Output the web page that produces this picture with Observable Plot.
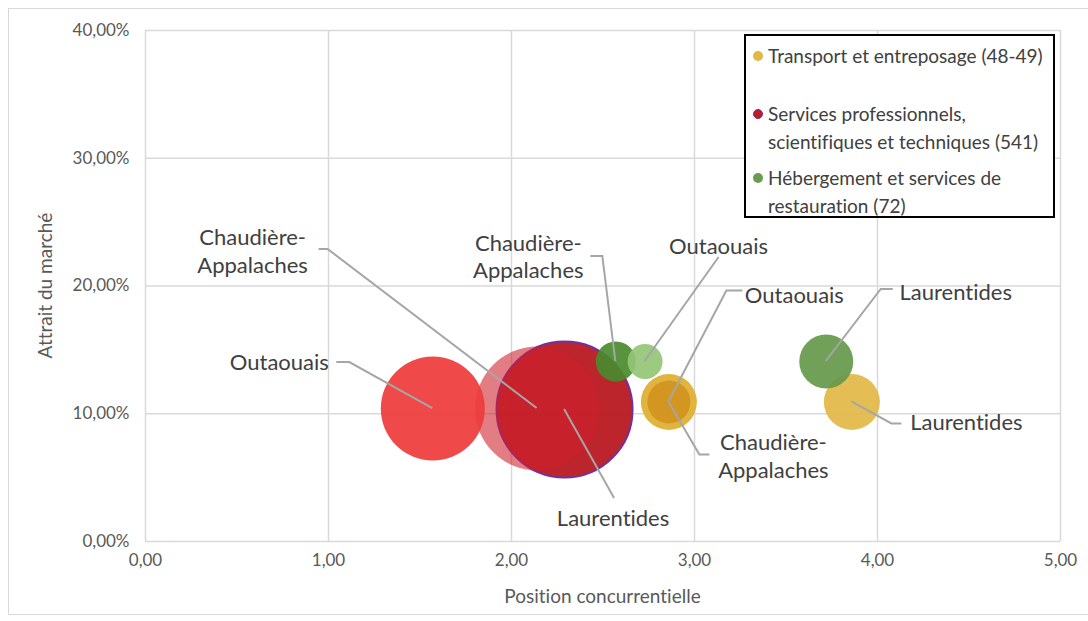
<!DOCTYPE html>
<html>
<head>
<meta charset="utf-8">
<script src="https://cdn.jsdelivr.net/npm/d3@7"></script>
<script src="https://cdn.jsdelivr.net/npm/@observablehq/plot@0.6"></script>
<style>
  body { margin: 0; background: #fff; font-family: Lato, "Open Sans", sans-serif; font-variant-ligatures: none; font-feature-settings: "liga" 0, "clig" 0; }
  svg, svg text { font-variant-ligatures: none; font-feature-settings: "liga" 0, "clig" 0; }
  #wrap { position: relative; width: 1088px; height: 621px; overflow: hidden; }
  #frame { position: absolute; left: 8px; top: 8px; width: 1100px; height: 607px; border: 1.5px solid #d9d9d9; box-sizing: border-box; }
  #chart { position: absolute; left: 0; top: 0; }
  #legend { position: absolute; left: 744px; top: 34px; width: 311px; height: 184px; border: 2px solid #000; background: #fff; box-sizing: border-box; color: #404040; font-size: 19px; }
  .item { position: absolute; left: 22px; line-height: 27.5px; white-space: nowrap; }
  .dot { position: absolute; left: 7px; width: 10px; height: 10px; border-radius: 50%; box-sizing: border-box; }
</style>
</head>
<body>
<div id="wrap">
  <div id="frame"></div>
  <div id="chart"></div>
  <div id="legend"></div>
</div>
<script>
// ---- Data ----
const regions = ["Chaudière-Appalaches", "Laurentides", "Outaouais"];
const sectors = [
  "Services professionnels, scientifiques et techniques (541)",
  "Hébergement et services de restauration (72)",
  "Transport et entreposage (48-49)"
];
const legendOrder = [
  "Transport et entreposage (48-49)",
  "Services professionnels, scientifiques et techniques (541)",
  "Hébergement et services de restauration (72)"
];
// Position concurrentielle (x), Attrait du marché in % (y), bubble size
const servicesX = [2.14, 2.29, 1.57];
const servicesY = [10.41, 10.33, 10.41];
const servicesSize = [3844, 4624, 2704];
const hebergementX = [2.57, 3.72, 2.73];
const hebergementY = [14.09, 14.09, 14.09];
const hebergementSize = [400, 729, 306];
const transportX = [2.86, 3.86, 2.86];
const transportY = [10.92, 10.92, 10.92];
const transportSize = [784, 784, 462];
const xTicks = [0, 1, 2, 3, 4, 5];
const yTicks = [0, 10, 20, 30, 40];

const seriesValues = [
  [servicesX, servicesY, servicesSize],
  [hebergementX, hebergementY, hebergementSize],
  [transportX, transportY, transportSize]
];
// drawing order within each series
const drawOrder = [
  ["Outaouais", "Chaudière-Appalaches", "Laurentides"],
  ["Outaouais", "Chaudière-Appalaches", "Laurentides"],
  ["Chaudière-Appalaches", "Outaouais", "Laurentides"]
];
const rows = [];
sectors.forEach((s, si) => {
  drawOrder[si].forEach(r => {
    const ri = regions.indexOf(r);
    rows.push({sector: s, region: r, x: seriesValues[si][0][ri], y: seriesValues[si][1][ri], size: seriesValues[si][2][ri]});
  });
});

// ---- Styles ----
const S = sectors;
const key = d => d.sector + "|" + d.region;
const fills = {
  [S[0] + "|Outaouais"]: ["#ee3b3b", 0.93],
  [S[0] + "|Chaudière-Appalaches"]: ["#cf1f2b", 0.58],
  [S[0] + "|Laurentides"]: ["#b8171f", 0.94],
  [S[1] + "|Outaouais"]: ["#93c675", 0.92],
  [S[1] + "|Chaudière-Appalaches"]: ["#4a8a2e", 0.92],
  [S[1] + "|Laurentides"]: ["#65984a", 0.92],
  [S[2] + "|Chaudière-Appalaches"]: ["#e1b43e", 1],
  [S[2] + "|Outaouais"]: ["#d2951f", 0.95],
  [S[2] + "|Laurentides"]: ["#e2b945", 0.92]
};
const legendColors = {
  [S[2]]: {fill: "#e2b945", stroke: "none"},
  [S[0]]: {fill: "#c01c24", stroke: "#7030a0"},
  [S[1]]: {fill: "#6a9b50", stroke: "none"}
};
// leader-line annotations: pixel offsets from bubble centre
const annot = {
  [S[0] + "|Chaudière-Appalaches"]: {path: [[-209, -159], [-218, -159]], text: [-284, -156.5]},
  [S[0] + "|Outaouais"]: {path: [[-83, -46], [-96, -46]], text: [-153, -46]},
  [S[0] + "|Laurentides"]: {path: [[50, 89]], text: [49, 109]},
  [S[1] + "|Chaudière-Appalaches"]: {path: [[-13, -105], [-25, -105]], text: [-87, -104]},
  [S[1] + "|Outaouais"]: {path: [[74, -104]], text: [74, -115]},
  [S[1] + "|Laurentides"]: {path: [[55, -72], [67, -72]], text: [130, -69]},
  [S[2] + "|Outaouais"]: {path: [[58, -111], [74, -111]], text: [126, -106]},
  [S[2] + "|Chaudière-Appalaches"]: {path: [[31, 53], [41, 53]], text: [105, 55]},
  [S[2] + "|Laurentides"]: {path: [[40, 22], [50, 22]], text: [115, 21]}
};

const fmtX = d => d3.format(".2f")(d).replace(".", ",");
const fmtY = d => d3.format(".2f")(d).replace(".", ",") + "%";

const plot = Plot.plot({
  width: 1088,
  height: 621,
  marginLeft: 145,
  marginRight: 28,
  marginTop: 30,
  marginBottom: 80,
  style: {fontFamily: "Lato, sans-serif", fontSize: "17px", color: "#595959", background: "transparent", overflow: "visible"},
  x: {domain: [0, 5], ticks: xTicks, tickFormat: fmtX, tickSize: 0, tickPadding: 12, label: null},
  y: {domain: [0, 40], ticks: yTicks, tickFormat: fmtY, tickSize: 0, tickPadding: 16, label: null},
  r: {domain: [0, 4624], range: [0, 68]},
  marks: [
    Plot.gridX(xTicks, {stroke: "#d9d9d9", strokeOpacity: 1, strokeWidth: 1.5}),
    Plot.gridY(yTicks, {stroke: "#d9d9d9", strokeOpacity: 1, strokeWidth: 1.5}),
    Plot.dot(rows, {
      x: "x", y: "y", r: "size",
      fill: d => fills[key(d)][0],
      fillOpacity: d => fills[key(d)][1],
      stroke: d => d.region === "Laurentides" && d.sector === S[0] ? "#7030a0" : "none",
      strokeWidth: 2
    })
  ]
});
document.getElementById("chart").appendChild(plot);

const sx = plot.scale("x"), sy = plot.scale("y");
const svg = d3.select(plot);

// axis titles
svg.append("text")
  .attr("x", (sx.range[0] + sx.range[1]) / 2).attr("y", sy.apply(0) + 55)
  .attr("text-anchor", "middle").attr("dy", "0.35em")
  .attr("fill", "#595959").style("font-size", "19px")
  .text("Position concurrentielle");
svg.append("text")
  .attr("transform", `translate(45,${(sy.range[0] + sy.range[1]) / 2}) rotate(-90)`)
  .attr("text-anchor", "middle").attr("dy", "0.35em")
  .attr("fill", "#595959").style("font-size", "19px")
  .text("Attrait du marché");

// leader lines and labels
const ann = svg.append("g");
rows.forEach(d => {
  const a = annot[key(d)];
  const cx = sx.apply(d.x), cy = sy.apply(d.y);
  const pts = [[cx, cy]].concat(a.path.map(p => [cx + p[0], cy + p[1]]));
  ann.append("path").attr("d", d3.line()(pts))
    .attr("fill", "none").attr("stroke", "#a6a6a6").attr("stroke-width", 2);
  const lines = d.region === "Chaudière-Appalaches" ? ["Chaudière-", "Appalaches"] : [d.region];
  const lh = 27.5;
  const t = ann.append("text")
    .attr("text-anchor", "middle").attr("fill", "#404040").style("font-size", "22px");
  lines.forEach((ln, i) => {
    t.append("tspan")
      .attr("x", cx + a.text[0])
      .attr("y", cy + a.text[1] + (i - (lines.length - 1) / 2) * lh)
      .attr("dy", "0.35em")
      .text(ln);
  });
});

// legend
const legend = document.getElementById("legend");
const legendTops = [20, 78, 142];
legendOrder.forEach((s, i) => {
  const c = legendColors[s];
  const dot = document.createElement("div");
  dot.className = "dot";
  dot.style.top = (legendTops[i] - 5) + "px";
  dot.style.background = c.fill;
  if (c.stroke !== "none") dot.style.border = "1.5px solid " + c.stroke;
  legend.appendChild(dot);
  const item = document.createElement("div");
  item.className = "item";
  item.style.top = (legendTops[i] - 13.75) + "px";
  let txt = s;
  if (s.startsWith("Services")) txt = "Services professionnels,<br>scientifiques et techniques (541)";
  if (s.startsWith("Hébergement")) txt = "Hébergement et services de<br>restauration (72)";
  item.innerHTML = txt;
  legend.appendChild(item);
});
</script>
</body>
</html>
